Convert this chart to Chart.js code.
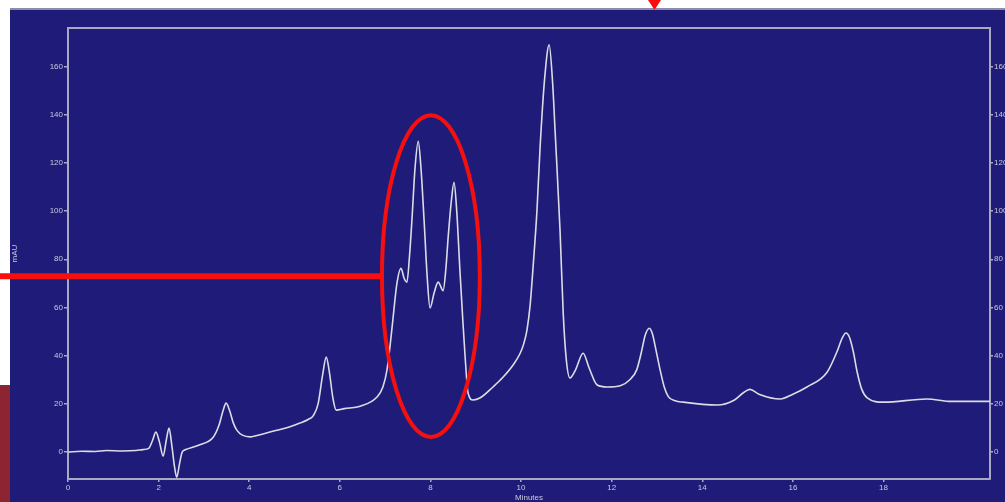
<!DOCTYPE html>
<html>
<head>
<meta charset="utf-8">
<title>Chromatogram</title>
<script src="https://cdn.jsdelivr.net/npm/chart.js@4/dist/chart.umd.min.js"></script>
<style>
  html, body { margin: 0; padding: 0; background: #fff; overflow: hidden; }
  canvas { display: block; }
</style>
</head>
<body>
<canvas id="chroma" width="1005" height="502"></canvas>
<script>
// retention time (min) and detector response (mAU)
const minutes = [
  0.00, 0.30, 0.60, 0.85, 1.20, 1.50, 1.65, 1.78, 1.87, 1.94,
  2.02, 2.10, 2.17, 2.23, 2.29, 2.35, 2.40, 2.46, 2.52, 2.60,
  2.91, 3.20, 3.33, 3.42, 3.49, 3.57, 3.65, 3.73, 3.85, 4.02,
  4.30, 4.61, 4.90, 5.12, 5.30, 5.41, 5.52, 5.62, 5.70, 5.77,
  5.85, 5.92, 6.10, 6.45, 6.82, 6.95, 7.04, 7.12, 7.17, 7.26,
  7.35, 7.42, 7.48, 7.54, 7.59, 7.66, 7.73, 7.79, 7.86, 7.93,
  7.99, 8.08, 8.17, 8.28, 8.34, 8.39, 8.46, 8.52, 8.58, 8.65,
  8.71, 8.76, 8.83, 8.94, 9.10, 9.38, 9.60, 9.82, 9.98, 10.06,
  10.13, 10.20, 10.27, 10.35, 10.42, 10.52, 10.62, 10.70, 10.75, 10.86,
  10.93, 11.00, 11.08, 11.20, 11.37, 11.50, 11.68, 11.90, 12.19, 12.40,
  12.55, 12.65, 12.74, 12.83, 12.90, 12.97, 13.07, 13.16, 13.25, 13.40,
  13.58, 14.33, 14.70, 14.90, 15.05, 15.25, 15.72, 16.00, 16.31, 16.75,
  16.98, 17.08, 17.17, 17.25, 17.34, 17.42, 17.52, 17.64, 18.00, 18.96,
  19.50, 20.35
]
const mAU = [
  0.0, 0.3, 0.2, 0.6, 0.4, 0.6, 1.0, 1.5, 5.0, 8.3,
  4.0, -1.7, 5.0, 10.0, 3.0, -6.0, -10.5, -5.0, 0.0, 1.0,
  3.0, 6.0, 11.0, 17.0, 20.3, 17.0, 12.0, 9.0, 7.0, 6.3,
  7.5, 9.0, 10.5, 12.0, 13.5, 15.0, 20.0, 32.0, 39.4, 33.0,
  22.0, 17.4, 18.0, 19.0, 22.8, 27.0, 34.0, 46.0, 54.8, 70.0,
  76.3, 72.0, 70.5, 82.0, 96.0, 118.0, 129.0, 118.0, 96.0, 72.0,
  59.8, 66.0, 70.5, 67.0, 76.0, 89.0, 104.0, 112.0, 100.0, 75.5,
  56.0, 41.0, 24.5, 21.6, 22.5, 27.0, 31.0, 36.0, 41.0, 45.0,
  50.6, 61.0, 78.0, 100.0, 126.6, 155.0, 169.0, 152.0, 133.6, 92.0,
  57.7, 38.0, 30.7, 34.0, 41.0, 35.0, 27.8, 27.0, 27.5, 30.0,
  34.0, 41.0, 48.5, 51.4, 49.0, 43.0, 34.0, 27.0, 23.0, 21.3,
  20.7, 19.5, 21.5, 24.5, 26.0, 24.0, 22.0, 24.0, 27.0, 33.0,
  42.0, 47.0, 49.4, 47.5, 41.0, 33.0, 26.0, 22.5, 20.7, 22.0,
  21.0, 21.0
]
const xTicks = [0, 2, 4, 6, 8, 10, 12, 14, 16, 18]
const yTicks = [0, 20, 40, 60, 80, 100, 120, 140, 160]

// highlighted co-eluting group (centre and half-axes in data units)
const group = {x: 8.01, y: 73, rx: 1.08, ry: 66.8}

const PANEL = '#1e1c78'
const FRAME = '#a9a9c4'
const LABEL = '#c9c9dc'
const RED = '#f50f0f'
const tickFont = {family: 'Liberation Sans, Arial, sans-serif', size: 8}

const backdrop = {
  id: 'backdrop',
  beforeDraw(chart) {
    const {ctx, width, height} = chart
    ctx.save()
    ctx.fillStyle = '#ffffff'
    ctx.fillRect(0, 0, width, height)
    ctx.fillStyle = PANEL
    ctx.fillRect(10, 9, width - 10, height - 9)
    ctx.fillStyle = '#8d8cab'
    ctx.fillRect(10, 8, width - 10, 2)
    ctx.fillStyle = '#8c2432'
    ctx.fillRect(0, 385, 10, height - 385)
    ctx.restore()
  },
  beforeDatasetsDraw(chart) {
    // top edge of the plot frame, the axes draw the other three sides
    const {ctx, chartArea: a} = chart
    ctx.save()
    ctx.strokeStyle = FRAME
    ctx.lineWidth = 2
    ctx.beginPath()
    ctx.moveTo(a.left, a.top)
    ctx.lineTo(a.right, a.top)
    ctx.stroke()
    ctx.restore()
  },
}

const markup = {
  id: 'markup',
  afterDraw(chart) {
    const {ctx} = chart
    const xs = chart.scales.x
    const ys = chart.scales.y
    const cx = xs.getPixelForValue(group.x)
    const cy = ys.getPixelForValue(group.y)
    const rx = xs.getPixelForValue(group.x + group.rx) - cx
    const ry = cy - ys.getPixelForValue(group.y + group.ry)
    ctx.save()
    ctx.strokeStyle = RED
    ctx.lineWidth = 4
    ctx.beginPath()
    ctx.ellipse(cx, cy, rx, ry, 0, 0, Math.PI * 2)
    ctx.stroke()
    // pointer line into the ellipse
    ctx.lineWidth = 6
    ctx.beginPath()
    ctx.moveTo(0, cy)
    ctx.lineTo(cx - rx, cy)
    ctx.stroke()
    // marker at the top edge
    ctx.fillStyle = RED
    ctx.beginPath()
    ctx.moveTo(648, 0)
    ctx.lineTo(661, 0)
    ctx.lineTo(654.5, 10)
    ctx.closePath()
    ctx.fill()
    ctx.restore()
  },
}

const axisGrid = {drawOnChartArea: false, drawTicks: true, tickLength: 4, color: FRAME, lineWidth: 1.5}
const axisBorder = {display: true, color: FRAME, width: 2}

new Chart(document.getElementById('chroma'), {
  type: 'line',
  data: {
    datasets: [{
      data: minutes.map((m, i) => ({x: m, y: mAU[i]})),
      borderColor: '#dcdce6',
      borderWidth: 1.6,
      pointRadius: 0,
      cubicInterpolationMode: 'monotone',
      fill: false,
    }],
  },
  options: {
    responsive: false,
    devicePixelRatio: 1,
    animation: false,
    layout: {padding: {left: 10, top: 28, right: 0, bottom: 0}},
    plugins: {legend: {display: false}, tooltip: {enabled: false}},
    scales: {
      x: {
        type: 'linear',
        min: 0,
        max: 20.35,
        afterBuildTicks: (s) => { s.ticks = xTicks.map((v) => ({value: v})) },
        afterFit: (s) => { s.height = 23 },
        grid: {...axisGrid, tickLength: 3},
        border: axisBorder,
        ticks: {color: LABEL, font: tickFont, padding: 1, maxRotation: 0},
        title: {display: true, text: 'Minutes', color: LABEL, font: tickFont, padding: {top: 0, bottom: -1}},
      },
      y: {
        position: 'left',
        min: -11.2,
        max: 176,
        afterBuildTicks: (s) => { s.ticks = yTicks.map((v) => ({value: v})) },
        afterFit: (s) => { s.width = 58 },
        grid: axisGrid,
        border: axisBorder,
        ticks: {color: LABEL, font: tickFont, padding: 1},
        title: {display: true, text: 'mAU', color: LABEL, font: tickFont, padding: {top: 0, bottom: 0}},
      },
      y2: {
        position: 'right',
        min: -11.2,
        max: 176,
        afterBuildTicks: (s) => { s.ticks = yTicks.map((v) => ({value: v})) },
        afterFit: (s) => { s.width = 15 },
        grid: {...axisGrid, tickLength: 3},
        border: axisBorder,
        ticks: {color: LABEL, font: tickFont, padding: 1},
      },
    },
  },
  plugins: [backdrop, markup],
})
</script>
</body>
</html>
